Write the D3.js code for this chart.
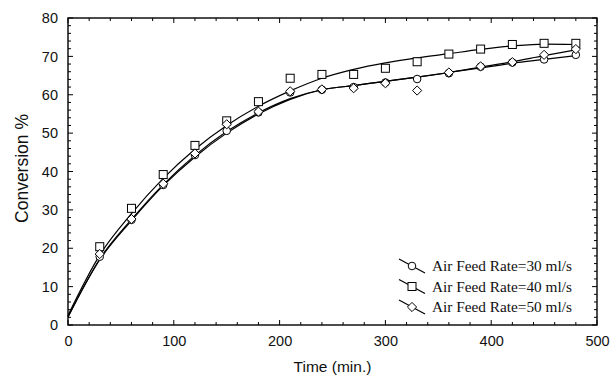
<!DOCTYPE html>
<html><head><meta charset="utf-8">
<script src="https://cdn.jsdelivr.net/npm/d3@7"></script>
<style>body{margin:0;background:#fff}svg{display:block}</style>
</head><body><svg id="c" width="610" height="381"></svg>
<script>
// measured data
const times = [30,60,90,120,150,180,210,240,270,300,330,360,390,420,450,480];
const rate30 = [17.8,27.4,36.5,44.3,50.6,55.4,60.6,61.3,62.0,63.2,64.1,65.6,67.3,68.4,69.2,70.4];
const rate40 = [20.4,30.4,39.2,46.8,53.2,58.2,64.3,65.3,65.3,66.9,68.6,70.6,71.9,73.1,73.4,73.4];
const rate50 = [18.5,27.6,36.8,44.7,52.3,55.6,60.9,61.4,61.7,63.0,61.1,65.8,67.4,68.5,70.4,71.9];
// fitted curves
const fitTimes = [0,30,60,90,120,150,180,210,240,270,300,330,360,390,420,450,480];
const fit30 = [2.2,17.0,27.2,36.3,43.8,50.0,55.0,58.8,61.3,62.4,63.5,64.6,65.8,67.0,68.2,69.2,70.2];
const fit40 = [2.5,18.2,29.0,38.2,45.8,52.0,57.0,61.0,64.3,66.6,68.3,69.6,70.7,71.8,72.7,73.2,73.1];
const fit50 = [2.0,17.2,27.5,36.6,44.2,50.4,55.3,59.0,61.3,62.4,63.5,64.6,65.8,67.2,68.6,70.2,71.7];
const seriesNames = ["Air Feed Rate=30 ml/s","Air Feed Rate=40 ml/s","Air Feed Rate=50 ml/s"];
const xTicks = [0,100,200,300,400,500];
const yTicks = [0,10,20,30,40,50,60,70,80];

const L=68,T=18,W=529,H=307;
const svg=d3.select("#c");
const x=d3.scaleLinear().domain([0,500]).range([L,L+W]);
const y=d3.scaleLinear().domain([0,80]).range([T+H,T]);
const ink="#000";

// minor ticks (inward) on all four sides
const g=svg.append("g").attr("stroke",ink).attr("stroke-width",1);
d3.range(0,501,20).forEach(v=>{
  const len = v%100===0?5:3;
  g.append("line").attr("x1",x(v)).attr("x2",x(v)).attr("y1",T+H).attr("y2",T+H-len);
  g.append("line").attr("x1",x(v)).attr("x2",x(v)).attr("y1",T).attr("y2",T+len);
});
d3.range(0,81,2).forEach(v=>{
  const len = v%10===0?5:3;
  g.append("line").attr("y1",y(v)).attr("y2",y(v)).attr("x1",L).attr("x2",L+len);
  g.append("line").attr("y1",y(v)).attr("y2",y(v)).attr("x1",L+W).attr("x2",L+W-len);
});
svg.append("rect").attr("x",L).attr("y",T).attr("width",W).attr("height",H)
  .attr("fill","none").attr("stroke",ink).attr("stroke-width",1.4);

// tick labels via axes
const xa=svg.append("g").attr("transform",`translate(0,${T+H})`)
  .call(d3.axisBottom(x).tickValues(xTicks).tickSize(0).tickPadding(11));
const ya=svg.append("g").attr("transform",`translate(${L},0)`)
  .call(d3.axisLeft(y).tickValues(yTicks).tickSize(0).tickPadding(10));
[xa,ya].forEach(a=>{a.select(".domain").remove();
  a.selectAll("text").attr("font-family","Liberation Sans, Arial, sans-serif").attr("font-size",14.5).attr("fill","#111");});

svg.append("text").attr("x",x(250)).attr("y",372).attr("text-anchor","middle")
  .attr("font-family","Liberation Sans, Arial, sans-serif").attr("font-size",15.5).attr("fill","#111").text("Time (min.)");
svg.append("text").attr("transform",`translate(28,${y(40)-3}) rotate(-90)`).attr("text-anchor","middle")
  .attr("font-family","Liberation Sans, Arial, sans-serif").attr("font-size",17.5).attr("fill","#111").text("Conversion %");

// curves
const line=d3.line().x(d=>x(d[0])).y(d=>y(d[1])).curve(d3.curveMonotoneX);
[fit30,fit40,fit50].forEach(f=>{
  svg.append("path").attr("d",line(fitTimes.map((t,i)=>[t,f[i]])))
    .attr("fill","none").attr("stroke",ink).attr("stroke-width",1.2);
});

// markers
function marker(sel,type,cx,cy){
  if(type===0) sel.append("circle").attr("cx",cx).attr("cy",cy).attr("r",3.8);
  else if(type===1) sel.append("rect").attr("x",cx-4).attr("y",cy-4).attr("width",8).attr("height",8);
  else sel.append("path").attr("d",`M${cx},${cy-4.6}L${cx+4.6},${cy}L${cx},${cy+4.6}L${cx-4.6},${cy}Z`);
}
const mg=svg.append("g").attr("fill","#fff").attr("stroke",ink).attr("stroke-width",1);
[rate30,rate40,rate50].forEach((s,k)=>{
  times.forEach((t,i)=>marker(mg,k,x(t),y(s[i])));
});

// legend
const lg=svg.append("g");
seriesNames.forEach((n,k)=>{
  const cy=266+k*20.5, cx=412;
  lg.append("line").attr("x1",cx-13).attr("y1",cy-7).attr("x2",cx+13).attr("y2",cy+7)
    .attr("stroke",ink).attr("stroke-width",1.2);
  const m=lg.append("g").attr("fill","#fff").attr("stroke",ink).attr("stroke-width",1);
  marker(m,k,cx,cy);
  lg.append("text").attr("x",432).attr("y",cy+5).attr("font-family","Liberation Serif, Times New Roman, serif")
    .attr("font-size",15.3).attr("fill","#111").text(n);
});
</script></body></html>
